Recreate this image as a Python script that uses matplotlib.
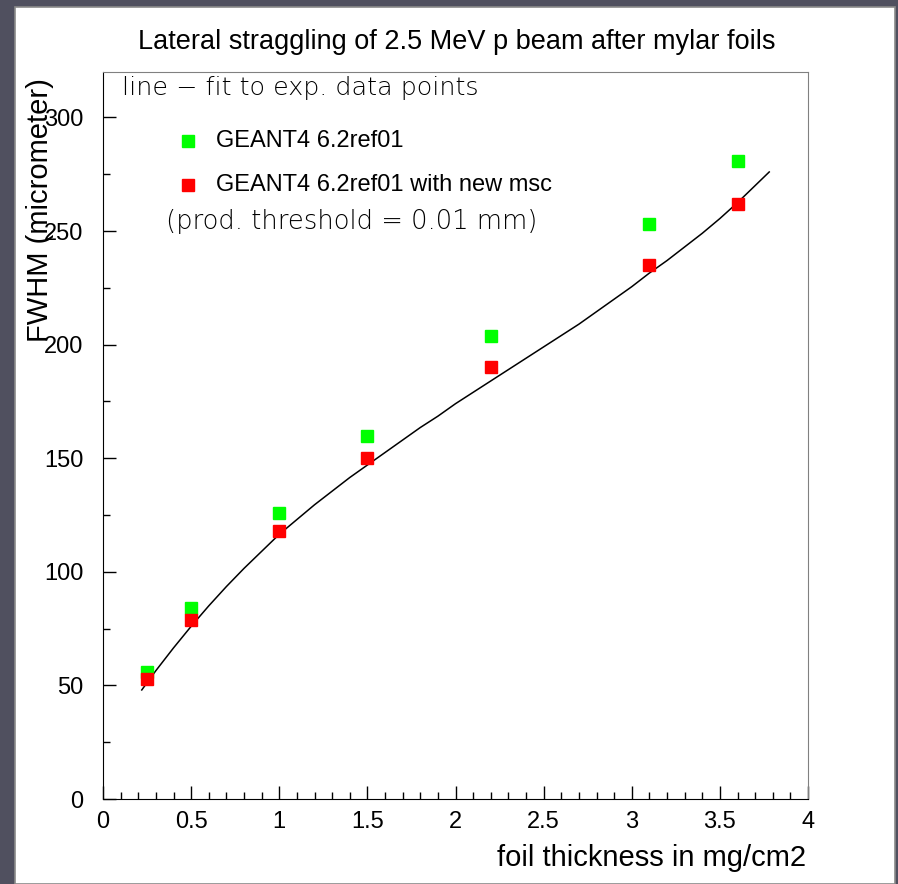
import matplotlib.pyplot as plt
from matplotlib.patches import Rectangle
from matplotlib.ticker import MultipleLocator

# foil thickness (mg/cm2)
thickness = [0.25, 0.5, 1.0, 1.5, 2.2, 3.1, 3.6]
# FWHM values (micrometer)
fwhm_ref01 = [56, 84, 126, 160, 204, 253, 281]
fwhm_new_msc = [53, 79, 118, 150, 190, 235, 262]

fit_x = [0.22, 0.3, 0.4, 0.5, 0.6, 0.7, 0.8, 0.9, 1.0, 1.1, 1.2, 1.3, 1.4, 1.5, 1.6, 1.7, 1.8,
         1.9, 2.0, 2.1, 2.2, 2.3, 2.4, 2.5, 2.6, 2.7, 2.8, 2.9, 3.0, 3.1, 3.2, 3.3, 3.4, 3.5,
         3.6, 3.7, 3.78]
fit_y = [48, 56.5, 66.5, 76, 85, 93.5, 101.5, 109, 116.5, 123, 129.5, 135.5, 141.5, 147, 152.5,
         158, 163.5, 168.5, 174, 179, 184, 189, 194, 199, 204, 209, 214.5, 220, 225.5, 231.5,
         237, 243, 249, 255.5, 262.5, 270, 276]

plt.rcParams["font.family"] = ["Liberation Sans", "DejaVu Sans"]

fig = plt.figure(figsize=(8.98, 8.84), dpi=100)
fig.patch.set_facecolor("#50505f")
# white slide panel
fig.patches.append(Rectangle((15 / 898, 0), 880 / 898, 1 - 7 / 884, transform=fig.transFigure,
                             facecolor="white", edgecolor="#8a8a8a", linewidth=1.2, zorder=-5))

ax = fig.add_axes([103 / 898, 1 - 799 / 884, 705 / 898, 727 / 884])
ax.set_facecolor("white")
ax.plot(fit_x, fit_y, color="black", linewidth=1.1)
ax.plot(thickness, fwhm_ref01, "s", color="#00ff00", markersize=8.5, linestyle="none")
ax.plot(thickness, fwhm_new_msc, "s", color="#ff0000", markersize=8.5, linestyle="none")

ax.set_xlim(0, 4)
ax.set_ylim(0, 320)
ax.xaxis.set_major_locator(MultipleLocator(0.5))
ax.xaxis.set_minor_locator(MultipleLocator(0.1))
ax.yaxis.set_major_locator(MultipleLocator(50))
ax.yaxis.set_minor_locator(MultipleLocator(25))
ax.xaxis.set_major_formatter(lambda v, p: f"{v:g}")
ax.tick_params(which="both", direction="in", top=False, right=False, width=1, labelsize=17)
ax.tick_params(which="major", length=9.5)
ax.tick_params(which="minor", length=4.7)
ax.tick_params(axis="y", pad=14)
ax.tick_params(axis="x", pad=9)
for side in ["top", "right"]:
    ax.spines[side].set_color("#808080")
for side in ["left", "bottom"]:
    ax.spines[side].set_color("black")

# annotation texts, thin font
light = dict(family=["DejaVu Sans"], fontweight="ultralight", color="black")
ax.text(0.027, 0.978, "line \u2212 fit to exp. data points", transform=ax.transAxes,
        fontsize=18.3, va="center", **light)
ax.plot([0.485], [289.6], "s", color="#00ff00", markersize=8.5)
ax.text(0.64, 289.6, "GEANT4 6.2ref01", fontsize=17, va="center")
ax.plot([0.485], [270.2], "s", color="#ff0000", markersize=8.5)
ax.text(0.64, 270.2, "GEANT4 6.2ref01 with new msc", fontsize=17, va="center")
ax.text(0.36, 254, "(prod. threshold = 0.01 mm)", fontsize=18.6, va="center", **light)

fig.text(457 / 898, 1 - 42 / 884, "Lateral straggling of 2.5 MeV p beam after mylar foils",
         ha="center", va="center", fontsize=19.5)
fig.text(806 / 898, 1 - 858 / 884, "foil thickness in mg/cm2", ha="right", va="center", fontsize=21)
fig.text(40 / 898, 1 - 210 / 884, "FWHM (micrometer)", rotation=90, ha="center", va="center",
         fontsize=21)

fig.savefig("out.png", dpi=100, facecolor=fig.get_facecolor())
